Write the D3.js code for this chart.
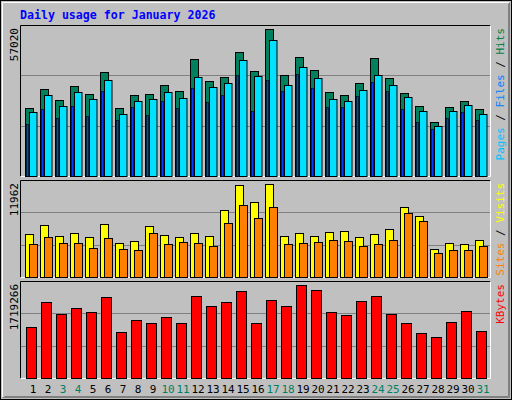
<!DOCTYPE html><html><head><meta charset="utf-8"><script src="https://cdn.jsdelivr.net/npm/d3@7"></script>
<style>body{margin:0;background:#fff}svg{display:block}</style></head><body><script>
const days=d3.range(1,32);
const weekends=[3,4,10,11,17,18,24,25,31];
const hits=[26248,33618,29351,34782,31679,40212,26248,31291,31679,35170,32842,45255,36721,38273,47970,40600,57020,39049,46031,40988,32454,31291,35945,45643,37885,32066,27024,20817,26636,28963,25860];
const files=[24696,31291,27024,32454,29739,37109,23921,28963,29739,32454,30127,38273,34394,35945,44867,38661,52625,35170,42152,37885,29739,28963,33230,39049,35170,30515,25084,19266,25084,27412,23921];
const pages=[20042,25860,22369,27024,23145,32842,21593,26636,23533,28963,26248,34006,28575,31291,39049,25084,37109,32842,39437,34006,26636,26636,30903,36333,32842,25860,20817,18102,22369,24696,21593];
const sites=[5591,6631,5331,5721,5201,6761,4421,4681,6501,5461,5201,5721,5331,8581,11832,9621,11962,5331,5721,5331,5851,5981,5201,5591,6111,8971,7801,3641,4421,4291,4811];
const visits=[4291,5201,4421,4421,3771,5071,3641,3511,5721,4291,4551,4421,4031,6891,9231,7541,8971,4291,4421,4551,4811,4681,4031,4291,4811,8191,7151,3120,3511,3511,4031];
const kbytes=[947480,1399258,1192193,1286314,1211017,1493379,853359,1079248,1022776,1135721,1022776,1512203,1323962,1399258,1606323,1022776,1436906,1323962,1719266,1625167,1211017,1173369,1418082,1512203,1192193,1022776,834535,759239,1041600,1229841,872183];
const W=512,H=400;
const svg=d3.select("body").append("svg").attr("width",W).attr("height",H);
svg.append("rect").attr("width",W).attr("height",H).attr("fill","#c0c0c0");
svg.append("rect").attr("x",0.5).attr("y",0.5).attr("width",W-1).attr("height",H-1).attr("fill","none").attr("stroke","#000");
svg.append("path").attr("d","M2.5,397.5V2.5H509.5").attr("fill","none").attr("stroke","#fff");
svg.append("path").attr("d","M2.5,397.5H509.5V2.5").attr("fill","none").attr("stroke","#808080");
svg.append("path").attr("d","M4.5,396.5H508.5V3.5").attr("fill","none").attr("stroke","#808080").attr("stroke-width",1);
svg.append("text").attr("x",20).attr("y",19).attr("fill","#0000ff").attr("font-family","DejaVu Sans Mono").attr("font-weight","bold").attr("font-size",11.6).text("Daily usage for January 2026");
const x=d3.scaleBand().domain(days).range([25,490]).paddingInner(0).paddingOuter(0);
const mono="DejaVu Sans Mono";
function panel(top,bot,max,label,right){
  svg.append("rect").attr("x",20.5).attr("y",top+.5).attr("width",470).attr("height",bot-top).attr("fill","#c0c0c0");
  svg.append("path").attr("d",`M20.5,${bot+.5}V${top+.5}H490.5`).attr("fill","none").attr("stroke","#000");
  svg.append("path").attr("d",`M20.5,${bot+.5}H490.5V${top+.5}`).attr("fill","none").attr("stroke","#fff");
  const y=d3.scaleLinear().domain([0,max]).range([bot,top+4]);
  [1,2].forEach(k=>{const gy=Math.round(bot-(bot-top)*k/3)+.5;
    svg.append("line").attr("x1",21).attr("x2",490).attr("y1",gy).attr("y2",gy).attr("stroke","#808080").attr("stroke-width",1);});
  svg.append("text").attr("transform",`translate(18,${top+3}) rotate(-90)`).attr("text-anchor","end").attr("font-family",mono).attr("font-size",11).attr("fill","#000").text(label);
  const t=svg.append("text").attr("transform",`translate(504,${top+3}) rotate(-90)`).attr("text-anchor","end").attr("font-family",mono).attr("font-size",11);
  right.forEach((r,i)=>{if(i)t.append("tspan").attr("fill","#000").text("/");t.append("tspan").attr("fill",r[1]).text(r[0]);});
  return y;
}
function bars(y,data,dx,w,color,sw){
  svg.append("g").selectAll("rect").data(data).join("rect")
   .attr("x",(d,i)=>x(days[i])+dx+.5).attr("y",d=>Math.round(y(d))+.5).attr("width",w).attr("height",d=>y(0)-Math.round(y(d)))
   .attr("fill",color).attr("stroke","#000").attr("stroke-width",sw);
}
let y1=panel(25,176,57020,"57020",[["Pages ","#00c0ff"],[" Files ","#0080ff"],[" Hits","#008040"]]);
bars(y1,hits,0,8,"#00805c",1);
bars(y1,pages,1,2,"#0040ff",0.6);
bars(y1,files,4,7.5,"#00e0ff",1);
let y2=panel(180,277,11962,"11962",[["Sites ","#ff8000"],[" Visits","#ffff00"]]);
bars(y2,sites,0,8,"#ffff00",1);
bars(y2,visits,4,8,"#ff8000",1);
let y3=panel(281,378,1719266,"1719266",[["KBytes","#ff0000"]]);
bars(y3,kbytes,1,10,"#ff0000",1);
svg.append("g").selectAll("text").data(days).join("text").attr("x",d=>x(d)+8).attr("y",393).attr("text-anchor","middle")
 .attr("font-family",mono).attr("font-size",11).attr("fill",d=>weekends.includes(d)?"#008060":"#000").text(d=>d);
</script></body></html>
